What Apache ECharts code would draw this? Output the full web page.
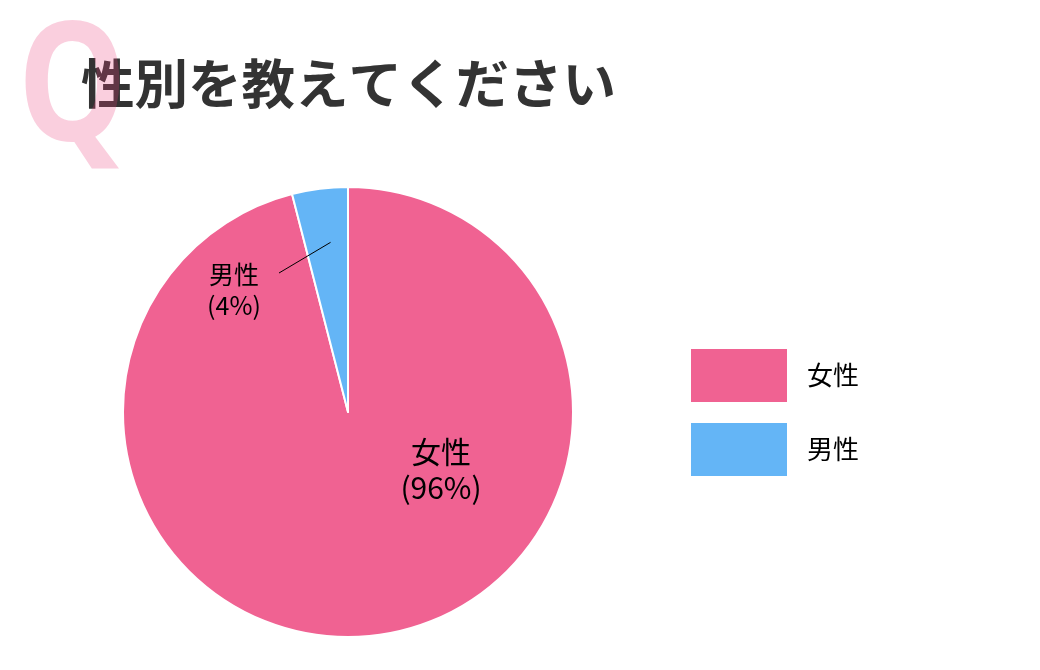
<!DOCTYPE html>
<html>
<head>
<meta charset="utf-8">
<script src="https://cdn.jsdelivr.net/npm/echarts@6/dist/echarts.min.js"></script>
<style>
  html, body { margin: 0; padding: 0; background: #fff; }
  #main { width: 1040px; height: 670px; }
</style>
</head>
<body>
<div id="main"></div>
<script>
// データ
var categories = ["女性", "男性"];
var values = [96, 4];
var colors = ["#f06292", "#64b5f6"];

var chart = echarts.init(document.getElementById("main"));

// 円の位置と半径
var CX = 348, CY = 412, R = 225;

// 男性ラベルの引き出し線（扇形の中央角から算出）
var total = values[0] + values[1];
var midA = (90 + 360 * values[1] / total / 2) * Math.PI / 180;
var lineStart = [CX + Math.cos(midA) * R * 0.76 + 4, CY - Math.sin(midA) * R * 0.76];
var lineEnd = [CX - 69, CY - 139];

var option = {
  backgroundColor: "#ffffff",
  color: colors,
  title: {
    text: "性別を教えてください",
    left: 76,
    top: 52,
    textStyle: {
      fontFamily: "Noto Sans CJK JP",
      fontWeight: "bold",
      fontSize: 53.5,
      lineHeight: 54,
      color: "#333333"
    }
  },
  graphic: [
    {
      type: "text",
      left: 18,
      top: 10,
      z: 100,
      scaleX: 0.83,
      style: {
        text: "Q",
        fontFamily: "Noto Sans",
        fontWeight: "bold",
        fontSize: 166,
        fill: "rgba(236, 64, 122, 0.25)"
      }
    },
    {
      type: "polyline",
      z: 100,
      shape: { points: [lineStart, lineEnd] },
      style: { stroke: "#000", lineWidth: 1, fill: null }
    }
  ],
  legend: {
    orient: "vertical",
    left: 691,
    top: 349,
    padding: 0,
    itemWidth: 96,
    itemHeight: 53,
    itemGap: 21,
    icon: "rect",
    itemStyle: { borderWidth: 0 },
    data: categories,
    textStyle: {
      fontFamily: "Noto Sans CJK JP",
      fontSize: 26,
      color: "#000",
      padding: [0, 0, 0, 15]
    }
  },
  series: [
    {
      type: "pie",
      center: [CX, CY],
      radius: R,
      startAngle: 90,
      clockwise: true,
      silent: true,
      itemStyle: { borderColor: "#fff", borderWidth: 2 },
      label: {
        show: true,
        position: "outside",
        formatter: "{b}\n({d}%)",
        color: "#000",
        fontFamily: "Noto Sans CJK JP",
        align: "center"
      },
      labelLine: { show: false },
      data: categories.map(function (name, i) {
        var d = { name: name, value: values[i] };
        if (i === 0) {
          d.label = { fontSize: 30, lineHeight: 36 };
        } else {
          d.label = { fontSize: 25, lineHeight: 31 };
        }
        return d;
      }),
      labelLayout: function (params) {
        if (params.dataIndex === 0) {
          return { x: CX + 93, y: CY + 58, align: "center", verticalAlign: "middle" };
        }
        return { x: CX - 114, y: CY - 122, align: "center", verticalAlign: "middle" };
      }
    }
  ]
};

chart.setOption(option);
</script>
</body>
</html>
